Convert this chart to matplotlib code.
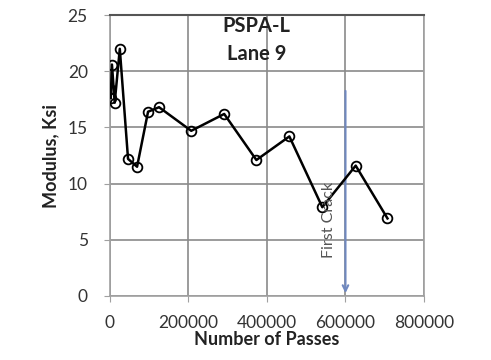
import matplotlib
matplotlib.use("Agg")
import matplotlib.pyplot as plt

passes = [0, 2000, 5000, 12000, 25000, 46000, 69000, 97000, 125000,
          207000, 291000, 373000, 457000, 541000, 626000, 707000]
modulus = [18.4, 17.6, 20.6, 17.2, 22.0, 12.2, 11.5, 16.4, 16.8,
           14.7, 16.2, 12.1, 14.2, 7.9, 11.6, 6.9]
crack_x = 600000
crack_top = 18.5
title_lines = ["PSPA-L", "Lane 9"]
xticks = [0, 200000, 400000, 600000, 800000]
yticks = [0, 5, 10, 15, 20, 25]

plt.rcParams['font.family'] = ['Lato', 'DejaVu Sans']
fig = plt.figure(figsize=(4.91, 3.6), dpi=100)
ax = fig.add_axes([0.224, 0.178, 0.6395, 0.780])

ax.set_xlim(0, 800000)
ax.set_ylim(0, 25)
ax.set_xticks(xticks)
ax.set_yticks(yticks)
ax.set_xticklabels([str(v) for v in xticks], fontsize=12.5, color='#333333')
ax.set_yticklabels([str(v) for v in yticks], fontsize=12.5, color='#333333')
ax.grid(True, color='#8a8a8a', linewidth=1.2)
ax.set_axisbelow(True)
for s in ['left', 'bottom', 'right']:
    ax.spines[s].set_color('#a0a0a0')
    ax.spines[s].set_linewidth(1.2)
ax.spines['top'].set_color('#555555')
ax.spines['top'].set_linewidth(1.5)
ax.tick_params(axis='x', direction='out', length=4, color='#a0a0a0', pad=10)
ax.tick_params(axis='y', direction='out', length=4, color='#a0a0a0', pad=12)

ax.plot(passes, modulus, color='black', linewidth=1.8, marker='o',
        markersize=7, markerfacecolor='none', markeredgecolor='black',
        markeredgewidth=1.3, zorder=3)

ax.annotate('', xy=(crack_x, 0), xytext=(crack_x, crack_top),
            arrowprops=dict(arrowstyle='->', color='#6f88c0', lw=1.5,
                            mutation_scale=10), zorder=2)
ax.text(559000, 6.8, 'First Crack', rotation=90, fontsize=11.5,
        color='#555555', ha='center', va='center')

ax.text(373000, 24.0, title_lines[0], fontsize=14.5, fontweight='bold',
        ha='center', va='center', color='#222222')
ax.text(373000, 21.5, title_lines[1], fontsize=14.5, fontweight='bold',
        ha='center', va='center', color='#222222')

ax.set_xlabel('Number of Passes', fontsize=13, fontweight='bold',
              color='#222222', labelpad=0)
ax.set_ylabel('Modulus, Ksi', fontsize=13, fontweight='bold',
              color='#222222')
ax.yaxis.label.set_va('center')
ax.yaxis.set_label_coords(-0.19, 0.5)

fig.savefig('out.png', dpi=100)
